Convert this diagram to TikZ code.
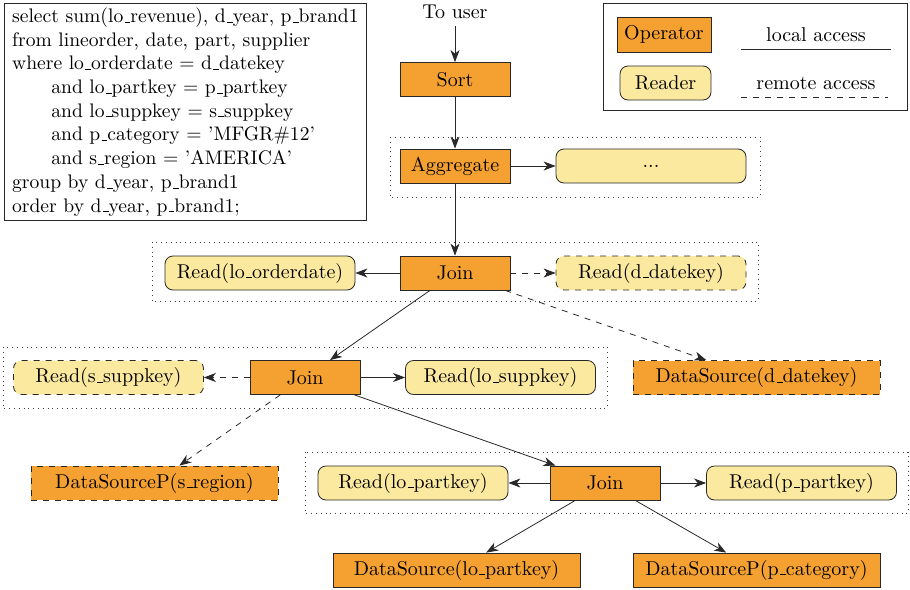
\documentclass[tikz,border=0pt]{standalone}
\usetikzlibrary{arrows.meta}
\definecolor{opfill}{RGB}{245,161,50}
\definecolor{rdfill}{RGB}{252,233,160}
\definecolor{edgecol}{RGB}{40,40,40}
% short low rule used as the underscore in identifiers
\newcommand\us{\leavevmode\kern.06em\vbox{\hrule width.3em}}
\begin{document}
\begin{tikzpicture}[x=0.5pt,y=-0.5pt,
  op/.style={draw=edgecol, fill=opfill, minimum width=55pt, minimum height=17pt, inner sep=0pt},
  ds/.style={op, minimum width=123.5pt},
  rd/.style={draw=edgecol, fill=rdfill, rounded corners=4pt, minimum width=95pt, minimum height=17pt, inner sep=0pt},
  remote/.style={dashed},
  flow/.style={-{Stealth[length=6pt,width=4.5pt,inset=1.8pt]}, draw=edgecol},
  grp/.style={draw=black!75, dotted}]
\useasboundingbox (0,0) rectangle (910,589);

% SQL query
\node[draw=edgecol, anchor=north west, align=left, inner xsep=3.5pt, inner ysep=1.8pt,
      minimum width=181pt, minimum height=108.5pt,
      font=\fontsize{9.8pt}{11.85pt}\selectfont] (sql) at (4,3)
  {select sum(lo\us revenue), d\us year, p\us brand1\\
   from lineorder, date, part, supplier\\
   where lo\us orderdate = d\us datekey\\
   \hspace*{2em}and lo\us partkey = p\us partkey\\
   \hspace*{2em}and lo\us suppkey = s\us suppkey\\
   \hspace*{2em}and p\us category = 'MFGR\#12'\\
   \hspace*{2em}and s\us region = 'AMERICA'\\
   group by d\us year, p\us brand1\\
   order by d\us year, p\us brand1;};

% legend
\draw[draw=edgecol] (603,3) rectangle (907,110);
\node[op, minimum width=47pt, minimum height=17.5pt] (lop) at (664,34.5) {Operator};
\node[rd, minimum width=45.5pt, minimum height=17pt] (lrd) at (665.5,83) {Reader};
\node (tlocal) at (816,35) {local access};
\node (tremote) at (816,83) {remote access};
\coordinate (la1) at (741,49); \coordinate (la2) at (891,49);
\coordinate (ra1) at (741,97); \coordinate (ra2) at (888,97);
\draw[draw=edgecol] (la1) -- (la2);
\draw[draw=edgecol, remote] (ra1) -- (ra2);

% operator groups
\draw[grp] (390,137) rectangle (760,197);
\draw[grp] (152,242) rectangle (758,301);
\draw[grp] (3,347) rectangle (607,408);
\draw[grp] (305,452) rectangle (908,513);

% plan nodes
\node (user) at (455,12) {To user};
\node[op] (sort) at (455,79.5) {Sort};
\node[op] (agg) at (455,166) {Aggregate};
\node[rd] (more) at (651,166) {...};
\node[op] (j1) at (455,273) {Join};
\node[rd] (rorder) at (260,273) {Read(lo\us orderdate)};
\node[rd, remote] (rdate) at (651,273) {Read(d\us datekey)};
\node[op] (j2) at (305,377.5) {Join};
\node[rd, remote] (rsupp) at (108.5,377.5) {Read(s\us suppkey)};
\node[rd] (rlosupp) at (500.5,377.5) {Read(lo\us suppkey)};
\node[ds, remote] (dsdate) at (756.5,377.5) {DataSource(d\us datekey)};
\node[ds, remote] (dsregion) at (154.5,483) {DataSourceP(s\us region)};
\node[op] (j3) at (605,483) {Join};
\node[rd] (rlopart) at (413,483) {Read(lo\us partkey)};
\node[rd] (rppart) at (801.5,483) {Read(p\us partkey)};
\node[ds] (dslopart) at (456.5,570) {DataSource(lo\us partkey)};
\node[ds] (dscat) at (756.5,570) {DataSourceP(p\us category)};

% connectors
\draw[flow] (user) -- (sort);
\draw[flow] (sort) -- (agg);
\draw[flow] (agg) -- (more);
\draw[flow] (agg) -- (j1);
\draw[flow] (j1) -- (rorder);
\draw[flow, remote] (j1) -- (rdate);
\draw[flow] (j1) -- (j2);
\draw[flow, remote] (j1) -- (dsdate);
\draw[flow, remote] (j2) -- (rsupp);
\draw[flow] (j2) -- (rlosupp);
\draw[flow, remote] (j2) -- (dsregion);
\draw[flow] (j2) -- (j3);
\draw[flow] (j3) -- (rlopart);
\draw[flow] (j3) -- (rppart);
\draw[flow] (j3) -- (dslopart);
\draw[flow] (j3) -- (dscat);
\end{tikzpicture}
\end{document}
